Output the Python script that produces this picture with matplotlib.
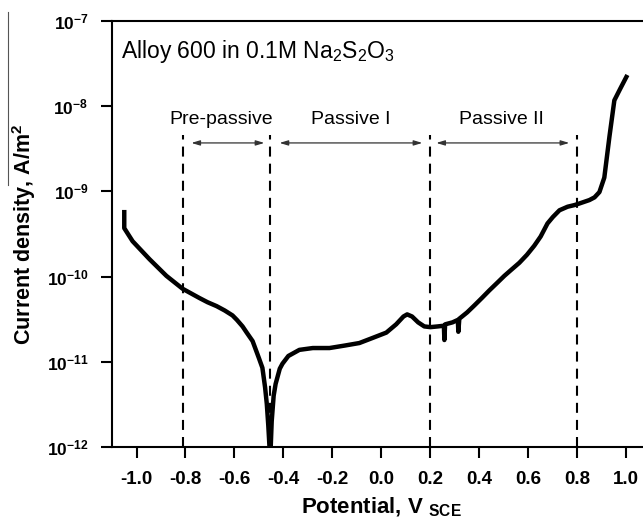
import matplotlib
matplotlib.use("Agg")
from matplotlib import pyplot as plt
from matplotlib.lines import Line2D
import matplotlib.ticker as mticker

plt.rcParams['font.family'] = ['Liberation Sans', 'DejaVu Sans']
plt.rcParams['mathtext.fontset'] = 'custom'
plt.rcParams['mathtext.rm'] = 'Liberation Sans'
plt.rcParams['mathtext.bf'] = 'Liberation Sans:bold'
plt.rcParams['mathtext.it'] = 'Liberation Sans:italic'

# polarization curve, potential in V(SCE), current density in A/m2
potential = [-1.05, -1.05, -1.016, -0.947, -0.878, -0.812, -0.743, -0.71, -0.673,
             -0.64, -0.608, -0.59, -0.567, -0.55, -0.526, -0.50, -0.486, -0.475,
             -0.468, -0.462, -0.457, -0.452, -0.448, -0.44, -0.432, -0.415, -0.404,
             -0.38, -0.335, -0.28, -0.212, -0.15, -0.09, -0.037, 0.02, 0.06, 0.09,
             0.105, 0.125, 0.15, 0.175, 0.2, 0.23, 0.255, 0.257, 0.26, 0.29, 0.312,
             0.314, 0.318, 0.35, 0.38, 0.41, 0.441, 0.47, 0.502, 0.53, 0.563, 0.594,
             0.624, 0.65, 0.678, 0.70, 0.727, 0.76, 0.788, 0.808, 0.849, 0.87, 0.89,
             0.91, 0.931, 0.951, 0.975, 1.0]
current = [5.7e-10, 3.7e-10, 2.6e-10, 1.6e-10, 1.02e-10, 7.2e-11, 5.6e-11, 5.0e-11,
           4.5e-11, 4.0e-11, 3.5e-11, 3.1e-11, 2.6e-11, 2.2e-11, 1.75e-11, 1.1e-11,
           8.5e-12, 5.0e-12, 3.2e-12, 1.8e-12, 1.0e-12, 1.0e-12, 2.0e-12, 4.0e-12,
           5.5e-12, 8.3e-12, 9.5e-12, 1.17e-11, 1.38e-11, 1.45e-11, 1.45e-11,
           1.55e-11, 1.66e-11, 1.9e-11, 2.2e-11, 2.75e-11, 3.4e-11, 3.6e-11, 3.4e-11,
           2.9e-11, 2.6e-11, 2.55e-11, 2.6e-11, 2.65e-11, 1.8e-11, 2.75e-11, 2.9e-11,
           3.1e-11, 2.25e-11, 3.2e-11, 3.8e-11, 4.6e-11, 5.6e-11, 6.9e-11, 8.3e-11,
           1.02e-10, 1.2e-10, 1.45e-10, 1.8e-10, 2.3e-10, 2.95e-10, 4.2e-10, 5.0e-10,
           6.0e-10, 6.6e-10, 6.9e-10, 7.2e-10, 7.9e-10, 8.5e-10, 9.8e-10, 1.45e-9,
           4.4e-9, 1.17e-8, 1.6e-8, 2.2e-8]

boundaries = [-0.81, -0.455, 0.2, 0.8]
regions = ["Pre-passive", "Passive I", "Passive II"]
region_spans = [(-0.776, -0.478), (-0.416, 0.167), (0.224, 0.767)]
region_label_x = [-0.653, -0.127, 0.49]

xticks = [-1.0, -0.8, -0.6, -0.4, -0.2, 0.0, 0.2, 0.4, 0.6, 0.8, 1.0]
yticks = [1e-12, 1e-11, 1e-10, 1e-9, 1e-8, 1e-7]
ytick_labels = [r'$\mathbf{10^{-12}}$', r'$\mathbf{10^{-11}}$', r'$\mathbf{10^{-10}}$',
                r'$\mathbf{10^{-9}}$', r'$\mathbf{10^{-8}}$', r'$\mathbf{10^{-7}}$']

fig = plt.figure(figsize=(6.43, 5.27), dpi=100)
ax = fig.add_axes([0.1742, 0.1518, 0.838, 0.8085])

ax.plot(potential, current, color="black", lw=3.2, solid_joinstyle="round")

for b in boundaries:
    ax.plot([b, b], [1e-12, 4.6e-9], color="black", lw=1.5, ls=(0, (4.8, 3.4)))

for name, (x0, x1), lx in zip(regions, region_spans, region_label_x):
    ax.annotate("", xy=(x0, 3.7e-9), xytext=(x1, 3.7e-9),
                arrowprops=dict(arrowstyle="<|-|>,head_length=0.5,head_width=0.15",
                                color="#333333", lw=0.9, shrinkA=0, shrinkB=0))
    ax.text(lx, 6.9e-9, name, ha="center", va="center", fontsize=14)

ax.text(-1.063, 4.4e-8, r"Alloy 600 in 0.1M Na$_2$S$_2$O$_3$", ha="left",
        va="center", fontsize=16.5)

ax.set_yscale("log")
ax.set_xlim(-1.1, 1.1)
ax.set_ylim(1e-12, 1e-7)
ax.set_xticks(xticks)
ax.set_xticklabels([f"{t:.1f}" for t in xticks], fontweight="bold", fontsize=13.5)
ax.set_yticks(yticks)
ax.set_yticklabels(ytick_labels, fontsize=12.5)
ax.yaxis.set_minor_locator(mticker.NullLocator())
ax.tick_params(direction="out", length=8, width=1.5)
ax.tick_params(axis="x", pad=9)
ax.tick_params(axis="y", pad=9)

for s in ax.spines.values():
    s.set_linewidth(1.5)

ax.set_xlabel(r"Potential, V $_{\mathbf{SCE}}$", fontsize=16, fontweight="bold",
              labelpad=6)
ax.set_ylabel(r"Current density, A/m$^{\mathbf{2}}$", fontsize=15.5, fontweight="bold",
              labelpad=6)

# thin rule beside the axis label
fig.add_artist(Line2D([8 / 643, 8 / 643], [1 - 12 / 527, 1 - 185 / 527],
                      color="#555555", lw=0.8))

fig.savefig("out.png", dpi=100)
